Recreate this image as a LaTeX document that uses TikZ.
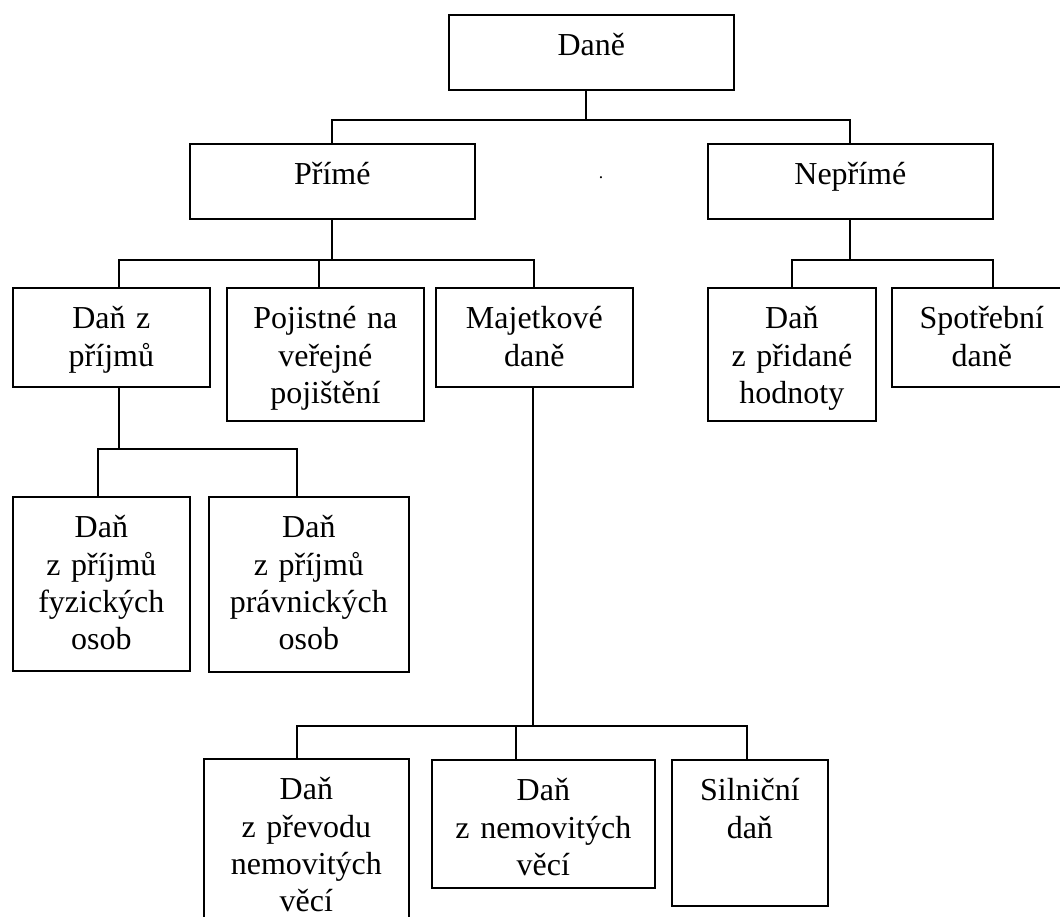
\documentclass[tikz,border=0pt]{standalone}
\usepackage{fontspec}
\setmainfont{Liberation Serif}
\usetikzlibrary{positioning,calc}

\begin{document}
\begin{tikzpicture}[x=0.02cm, y=-0.02cm]
\tikzstyle{box}=[draw, line width=1pt, anchor=north west, inner xsep=0pt, inner ysep=0pt, align=center, text height=0.82cm, font=\fontsize{18.2}{21.2}\selectfont]
\tikzstyle{conn}=[line width=1pt]

\useasboundingbox (0,0) rectangle (1060,916);
\clip (0,0) rectangle (1060,916);

\node[box, text width=5.7cm, text depth=0.68cm] (dane) at (448,14) {Daně};
\node[box, text width=5.7cm, text depth=0.68cm] (prime) at (189,143) {Přímé};
\node[box, text width=5.7cm, text depth=0.68cm] (neprime) at (707,143) {Nepřímé};
\node[anchor=base, font=\fontsize{10}{12}\selectfont] (tecka) at (601,178) {.};

\node[box, text width=3.94cm, text depth=1.16cm] (prijmy) at (12,287) {Daň z\\příjmů};
\node[box, text width=3.94cm, text depth=1.84cm] (pojistne) at (226,287) {Pojistné na\\veřejné\\pojištění};
\node[box, text width=3.94cm, text depth=1.16cm] (majetkove) at (435,287) {Majetkové\\daně};
\node[box, text width=3.36cm, text depth=1.84cm] (dph) at (707,287) {Daň\\z přidané\\hodnoty};
\node[box, text width=3.6cm, text depth=1.16cm] (spotrebni) at (891,287) {Spotřební\\daně};

\node[box, text width=3.54cm, text depth=2.66cm] (fyzicke) at (12,496) {Daň\\z příjmů\\fyzických\\osob};
\node[box, text width=4cm, text depth=2.68cm] (pravnicke) at (208,496) {Daň\\z příjmů\\právnických\\osob};

\node[box, text width=4.1cm, text depth=2.8cm] (prevod) at (203,758) {Daň\\z převodu\\nemovitých\\věcí};
\node[box, text width=4.46cm, text depth=1.74cm] (nemovite) at (431,759) {Daň\\z nemovitých\\věcí};
\node[box, text width=3.12cm, text depth=2.1cm] (silnicni) at (671,759) {Silniční\\daň};

\draw[conn] ([xshift=-0.11cm]dane.south) -- ++(0,29) coordinate (j1);
\draw[conn] (prime.north) |- (j1) -| (neprime.north);

\draw[conn] (prime.south) -- ++(0,40) coordinate (j2);
\draw[conn] ([xshift=0.15cm]prijmy.north) |- (j2) -| (majetkove.north);
\draw[conn] (j2) -| ([xshift=-0.13cm]pojistne.north);

\draw[conn] (neprime.south) -- ++(0,40) coordinate (j3);
\draw[conn] (dph.north) |- (j3) -| ([xshift=0.22cm]spotrebni.north);

\draw[conn] ([xshift=0.15cm]prijmy.south) -- ++(0,61) coordinate (j4);
\draw[conn] ([xshift=-0.07cm]fyzicke.north) |- (j4) -| ([xshift=-0.24cm]pravnicke.north);

\draw[conn] ([xshift=-0.03cm]majetkove.south) -- ++(0,338) coordinate (j5);
\draw[conn] ([xshift=-0.19cm]prevod.north) |- (j5) -| ([xshift=-0.06cm]silnicni.north);
\draw[conn] (j5) -| ([xshift=-0.55cm]nemovite.north);

\end{tikzpicture}
\end{document}
